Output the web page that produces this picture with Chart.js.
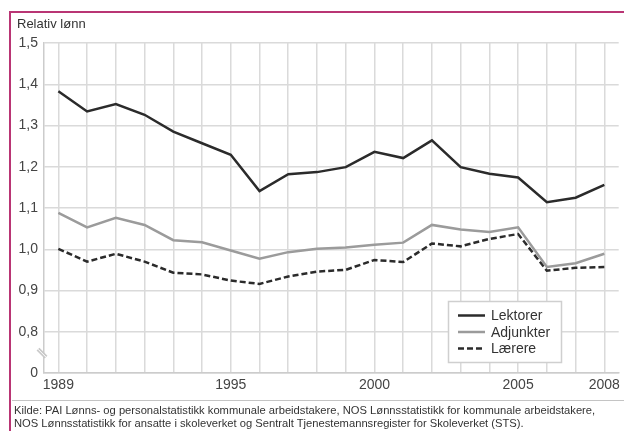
<!DOCTYPE html>
<html lang="no">
<head>
    <meta charset="UTF-8">
    <title>Relativ lønn</title>
    <script src="https://cdn.jsdelivr.net/npm/chart.js"></script>
    <style>
        body {
            margin: 0;
            width: 624px;
            height: 431px;
            overflow: hidden;
            background-color: #ffffff;
            font-family: 'Liberation Sans', Arial, sans-serif;
            position: relative;
        }

        .chart-container {
            position: absolute;
            left: 0;
            top: 0;
            width: 624px;
            height: 431px;
        }

        #ramme {
            position: absolute;
            left: 9px;
            top: 11px;
            width: 620px;
            height: 430px;
            border-left: 2px solid #b93574;
            border-top: 2px solid #b93574;
        }

        #ytittel {
            position: absolute;
            left: 17px;
            top: 16px;
            font-size: 13px;
            color: #333;
        }

        #skille {
            position: absolute;
            left: 12px;
            top: 400px;
            width: 612px;
            height: 1px;
            background-color: #c4c4c4;
        }

        #kilde {
            position: absolute;
            left: 14px;
            top: 404px;
            font-size: 11.2px;
            line-height: 13px;
            color: #333;
            white-space: nowrap;
        }
    </style>
</head>
<body>

<div id="ramme"></div>
<div class="chart-container">
    <canvas id="lonnChart"></canvas>
</div>
<div id="ytittel">Relativ lønn</div>
<div id="skille"></div>
<div id="kilde">Kilde: PAI Lønns- og personalstatistikk kommunale arbeidstakere, NOS Lønnsstatistikk for kommunale arbeidstakere,<br>NOS Lønnsstatistikk for ansatte i skoleverket og Sentralt Tjenestemannsregister for Skoleverket (STS).</div>

<script>
const years = ['1989', '1990', '1991', '1992', '1993', '1994', '1995', '1996', '1997', '1998',
               '1999', '2000', '2001', '2002', '2003', '2004', '2005', '2006', '2007', '2008'];
const yearLabels = ['1989', '1995', '2000', '2005', '2008'];

const lektorer  = [1.383, 1.334, 1.352, 1.326, 1.285, 1.257, 1.229, 1.141, 1.182, 1.187,
                   1.199, 1.236, 1.221, 1.264, 1.199, 1.183, 1.174, 1.114, 1.125, 1.156];
const adjunkter = [1.088, 1.053, 1.076, 1.059, 1.022, 1.017, 0.997, 0.977, 0.993, 1.001,
                   1.004, 1.011, 1.016, 1.059, 1.048, 1.042, 1.053, 0.957, 0.966, 0.989];
const laerere   = [1.001, 0.970, 0.989, 0.970, 0.943, 0.939, 0.924, 0.916, 0.934, 0.946,
                   0.950, 0.974, 0.969, 1.014, 1.007, 1.025, 1.037, 0.948, 0.955, 0.957];

// y-aksen er brutt: nederste linje (0,7) vises som 0
const yTicks = [0.7, 0.8, 0.9, 1.0, 1.1, 1.2, 1.3, 1.4, 1.5];

Chart.defaults.font.family = "'Liberation Sans', Arial, sans-serif";
Chart.defaults.font.size = 14;
Chart.defaults.color = '#444';

const gridColor = '#dadada';

// brudd-merke og legende tegnes etter grafen
const ekstraPlugin = {
    id: 'ekstra',
    afterDraw(chart) {
        const ctx = chart.ctx;
        const xs = chart.scales.x;
        const ys = chart.scales.y;

        ctx.save();
        const by = ys.getPixelForValue(0.748);
        ctx.strokeStyle = '#c9c9c9';
        ctx.lineWidth = 4;
        ctx.beginPath();
        ctx.moveTo(xs.left - 6, by - 4);
        ctx.lineTo(xs.left + 2, by + 4);
        ctx.stroke();
        ctx.strokeStyle = '#ffffff';
        ctx.lineWidth = 1;
        ctx.beginPath();
        ctx.moveTo(xs.left - 6, by - 4);
        ctx.lineTo(xs.left + 2, by + 4);
        ctx.stroke();

        // legende
        ctx.fillStyle = '#ffffff';
        ctx.strokeStyle = '#cfcfcf';
        ctx.lineWidth = 1.5;
        ctx.fillRect(448.5, 301.5, 113, 61);
        ctx.strokeRect(448.5, 301.5, 113, 61);

        ctx.font = "14px 'Liberation Sans', Arial, sans-serif";
        ctx.textBaseline = 'middle';
        chart.data.datasets.forEach((ds, i) => {
            const ry = 315.5 + i * 16.5;
            ctx.strokeStyle = ds.borderColor;
            ctx.lineWidth = ds.borderWidth;
            ctx.setLineDash(ds.borderDash || []);
            ctx.beginPath();
            ctx.moveTo(458, ry);
            ctx.lineTo(485, ry);
            ctx.stroke();
            ctx.setLineDash([]);
            ctx.fillStyle = '#333';
            ctx.fillText(ds.label, 491, ry + 1);
        });
        ctx.restore();
    }
};

const ctx = document.getElementById('lonnChart').getContext('2d');
new Chart(ctx, {
    type: 'line',
    data: {
        labels: years,
        datasets: [
            {
                label: 'Lektorer',
                data: lektorer,
                borderColor: '#2b2b2b',
                borderWidth: 2.5,
                pointRadius: 0,
                tension: 0
            },
            {
                label: 'Adjunkter',
                data: adjunkter,
                borderColor: '#9b9b9b',
                borderWidth: 2.5,
                pointRadius: 0,
                tension: 0
            },
            {
                label: 'Lærere',
                data: laerere,
                borderColor: '#2b2b2b',
                borderWidth: 2.5,
                borderDash: [6, 3],
                pointRadius: 0,
                tension: 0
            }
        ]
    },
    options: {
        responsive: true,
        maintainAspectRatio: false,
        animation: false,
        layout: {
            padding: { top: 43, right: 4, bottom: 31, left: 0 }
        },
        plugins: {
            legend: { display: false },
            tooltip: { enabled: false }
        },
        scales: {
            x: {
                type: 'category',
                offset: true,
                grid: { color: gridColor, lineWidth: 1.5, drawTicks: false, offset: false },
                border: { color: '#cccccc', width: 1.5 },
                ticks: {
                    autoSkip: false,
                    maxRotation: 0,
                    padding: 4,
                    color: '#444',
                    callback: function (val, idx) {
                        return yearLabels.includes(years[idx]) ? years[idx] : '';
                    }
                },
                afterFit: function (scale) {
                    scale.height = 27;
                }
            },
            y: {
                min: 0.7,
                max: 1.5,
                grid: { color: gridColor, lineWidth: 1.5, drawTicks: false },
                border: { color: '#cccccc', width: 1.5 },
                afterBuildTicks: function (scale) {
                    scale.ticks = yTicks.map(v => ({ value: v }));
                },
                ticks: {
                    padding: 6,
                    color: '#444',
                    callback: function (val) {
                        const v = Math.round(val * 10) / 10;
                        return v === 0.7 ? '0' : v.toFixed(1).replace('.', ',');
                    }
                },
                afterFit: function (scale) {
                    scale.width = 44;
                }
            }
        }
    },
    plugins: [ekstraPlugin]
});
</script>

</body>
</html>
